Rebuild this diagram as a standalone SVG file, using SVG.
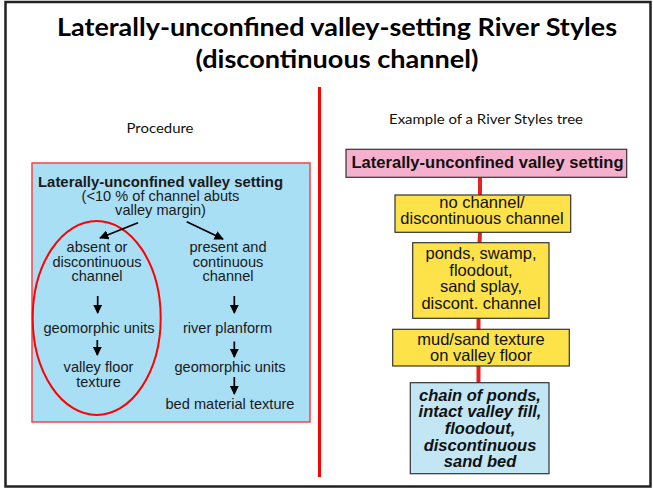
<svg xmlns="http://www.w3.org/2000/svg" width="653" height="488" viewBox="0 0 653 488">
<defs>
<style>
.title{font-family:Lato,"Open Sans",sans-serif;font-weight:bold;font-size:24px;fill:#000;text-anchor:middle}
.cal{font-family:Lato,"Open Sans",sans-serif;font-size:14px;fill:#111;text-anchor:middle}
.a{font-family:"Liberation Sans",Arial,sans-serif;font-size:14.6px;fill:#1a1a1a;text-anchor:middle}
.t{font-family:"Liberation Sans",Arial,sans-serif;font-size:16.5px;fill:#111;text-anchor:middle}
.tb{font-family:"Liberation Sans",Arial,sans-serif;font-size:16.5px;fill:#111;text-anchor:middle;font-weight:bold;font-style:italic}
.arr{stroke:#000;stroke-width:1.7;fill:none;marker-end:url(#ah)}
.conn{stroke:#e8201e;stroke-width:4;fill:none}
.ybox{fill:#fde24a;stroke:#333;stroke-width:1.2}
</style>
<marker id="ah" viewBox="0 0 10 10" refX="9" refY="5" markerWidth="5.5" markerHeight="5.5" orient="auto" markerUnits="strokeWidth">
<path d="M0,0 L10,5 L0,10 z" fill="#000"/>
</marker>
</defs>
<rect x="0" y="0" width="653" height="488" fill="#fff"/>
<rect x="5.5" y="2" width="645" height="484.5" fill="none" stroke="#222" stroke-width="2.5"/>
<text class="title" x="337" y="36" textLength="560" lengthAdjust="spacingAndGlyphs">Laterally-unconfined valley-setting River Styles</text>
<text class="title" x="337" y="68" textLength="283" lengthAdjust="spacingAndGlyphs">(discontinuous channel)</text>
<line x1="319.5" y1="87" x2="319.5" y2="477" stroke="#ff0000" stroke-width="3"/>
<text class="cal" x="160" y="133" textLength="67" lengthAdjust="spacingAndGlyphs">Procedure</text>
<text class="cal" x="486" y="124" textLength="194" lengthAdjust="spacingAndGlyphs">Example of a River Styles tree</text>

<g id="procedure">
<rect x="32" y="163" width="278" height="259" fill="#a8dff5" stroke="#ff4040" stroke-width="1.5"/>
<text class="a" x="160.5" y="187" font-weight="bold" textLength="245" lengthAdjust="spacingAndGlyphs">Laterally-unconfined valley setting</text>
<text class="a" x="160.5" y="200.5">(&lt;10 % of channel abuts</text>
<text class="a" x="160.5" y="214.5">valley margin)</text>
</g>
<g id="left-branch">
<text class="a" x="97" y="252">absent or</text>
<text class="a" x="97" y="266.7">discontinuous</text>
<text class="a" x="97" y="281.3">channel</text>
<text class="a" x="99" y="333">geomorphic units</text>
<text class="a" x="98.5" y="372">valley floor</text>
<text class="a" x="98.5" y="386.5">texture</text>
<ellipse cx="96.7" cy="318" rx="64" ry="97" fill="none" stroke="#ff0000" stroke-width="2"/>
</g>
<g id="right-branch">
<text class="a" x="228" y="252">present and</text>
<text class="a" x="228" y="266.7">continuous</text>
<text class="a" x="228" y="281.3">channel</text>
<text class="a" x="227.5" y="333">river planform</text>
<text class="a" x="230" y="372">geomorphic units</text>
<text class="a" x="230" y="408.5">bed material texture</text>
</g>
<g id="procedure-arrows">
<line class="arr" x1="138" y1="222.7" x2="100" y2="238"/>
<line class="arr" x1="186.7" y1="221.7" x2="223" y2="239"/>
<line class="arr" x1="97.7" y1="296" x2="97.7" y2="313"/>
<line class="arr" x1="234.3" y1="296" x2="234.3" y2="313"/>
<line class="arr" x1="97.3" y1="340" x2="97.3" y2="355"/>
<line class="arr" x1="234.3" y1="341.5" x2="234.3" y2="357"/>
<line class="arr" x1="234.3" y1="377" x2="234.3" y2="394"/>
</g>

<g id="tree-connectors">
<line class="conn" x1="480" y1="177" x2="480" y2="196"/>
<line class="conn" x1="480" y1="232" x2="479.5" y2="243"/>
<line class="conn" x1="478.5" y1="318" x2="478.5" y2="330"/>
<line class="conn" x1="478.5" y1="366" x2="478.5" y2="383"/>
</g>
<g id="tree-root">
<rect x="346" y="149.3" width="280.7" height="28" fill="#f5b0cd" stroke="#333" stroke-width="1.2"/>
<text class="t" x="487.5" y="168" font-weight="bold" font-size="17" textLength="272" lengthAdjust="spacingAndGlyphs">Laterally-unconfined valley setting</text>
</g>
<g id="tree-channel">
<rect class="ybox" x="395" y="195" width="175.7" height="37.3"/>
<text class="t" x="482" y="208">no channel/</text>
<text class="t" x="482" y="224">discontinuous channel</text>
</g>
<g id="tree-units">
<rect class="ybox" x="412.7" y="242.7" width="136.3" height="75.6"/>
<text class="t" x="481" y="258.8">ponds, swamp,</text>
<text class="t" x="481" y="275.5">floodout,</text>
<text class="t" x="481" y="292.2">sand splay,</text>
<text class="t" x="481" y="308.8">discont. channel</text>
</g>
<g id="tree-texture">
<rect class="ybox" x="392.7" y="329.3" width="176.6" height="36.7"/>
<text class="t" x="481" y="344.5">mud/sand texture</text>
<text class="t" x="481" y="361.2">on valley floor</text>
</g>
<g id="tree-style">
<rect x="410.3" y="382.7" width="138.7" height="91" fill="#c2e6f4" stroke="#333" stroke-width="1.2"/>
<text class="tb" x="480" y="400.5">chain of ponds,</text>
<text class="tb" x="480" y="417.2">intact valley fill,</text>
<text class="tb" x="480" y="433.8">floodout,</text>
<text class="tb" x="480" y="450.5">discontinuous</text>
<text class="tb" x="480" y="467.2">sand bed</text>
</g>
</svg>
